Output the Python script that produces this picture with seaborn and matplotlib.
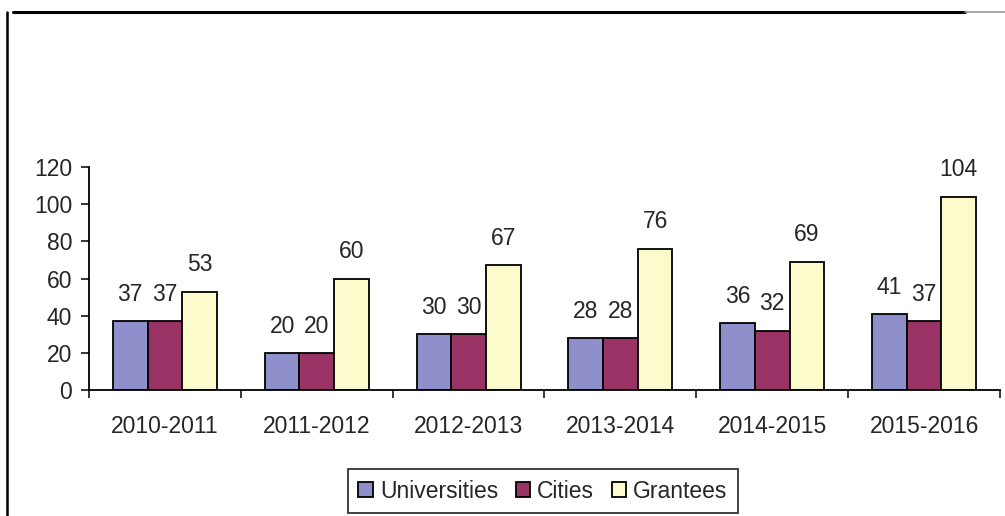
import matplotlib
matplotlib.use('Agg')
import matplotlib.pyplot as plt
import pandas as pd
import seaborn as sns
from matplotlib.lines import Line2D

years = ['2010-2011', '2011-2012', '2012-2013', '2013-2014', '2014-2015', '2015-2016']
universities = [37, 20, 30, 28, 36, 41]
cities = [37, 20, 30, 28, 32, 37]
grantees = [53, 60, 67, 76, 69, 104]
series = ['Universities', 'Cities', 'Grantees']
colors = ['#8e8fcb', '#993366', '#fbfbcb']

df = pd.DataFrame({
    'year': years * 3,
    'value': universities + cities + grantees,
    'series': [s for s in series for _ in years],
})

sns.set_style('white')
plt.rcParams['font.family'] = ['Liberation Sans', 'DejaVu Sans']
FS = 16.5

fig = plt.figure(figsize=(10.05, 5.16), dpi=100)
ax = fig.add_axes([89 / 1005, 1 - 390 / 516, (1000 - 89) / 1005, (390 - 167) / 516])

sns.barplot(data=df, x='year', y='value', hue='series', palette=colors, saturation=1,
            width=0.685, gap=0, edgecolor='black', linewidth=1.3, ax=ax)

for cont in ax.containers:
    ax.bar_label(cont, padding=11, fontsize=FS)

ax.set_ylim(0, 120)
ax.set_xlim(-0.5, len(years) - 0.5)
ax.set_yticks(range(0, 121, 20))
ax.set_xlabel('')
ax.set_ylabel('')
sns.despine(ax=ax)
for sp in ['left', 'bottom']:
    ax.spines[sp].set_color('black')
    ax.spines[sp].set_linewidth(1.3)

ax.tick_params(axis='y', direction='out', length=6, width=1.3, labelsize=FS, left=True, pad=6)
ax.tick_params(axis='x', which='major', length=0, labelsize=FS, pad=18)
ax.set_xticks([i - 0.5 for i in range(len(years) + 1)], minor=True)
ax.tick_params(axis='x', which='minor', direction='out', length=6, width=1.3, bottom=True)

ax.legend(loc='center', bbox_to_anchor=(543 / 1005, 1 - 491 / 516), bbox_transform=fig.transFigure,
          ncol=3, frameon=True, fancybox=False, edgecolor='black', fontsize=FS,
          handlelength=0.65, handleheight=0.65, handletextpad=0.3, columnspacing=0.75,
          borderpad=0.45, borderaxespad=0)
ax.get_legend().get_frame().set_linewidth(1.3)

# outer chart frame (top and left edges)
fig.add_artist(Line2D([13 / 1005, 965 / 1005], [1 - 12 / 516] * 2, color='black', lw=2.2,
                      transform=fig.transFigure))
fig.add_artist(Line2D([965 / 1005, 1.0], [1 - 12 / 516] * 2, color='#999999', lw=1.2,
                      transform=fig.transFigure))
fig.add_artist(Line2D([7 / 1005] * 2, [0, 1 - 12 / 516], color='black', lw=1.8,
                      transform=fig.transFigure))

fig.savefig('out.png', dpi=100)
